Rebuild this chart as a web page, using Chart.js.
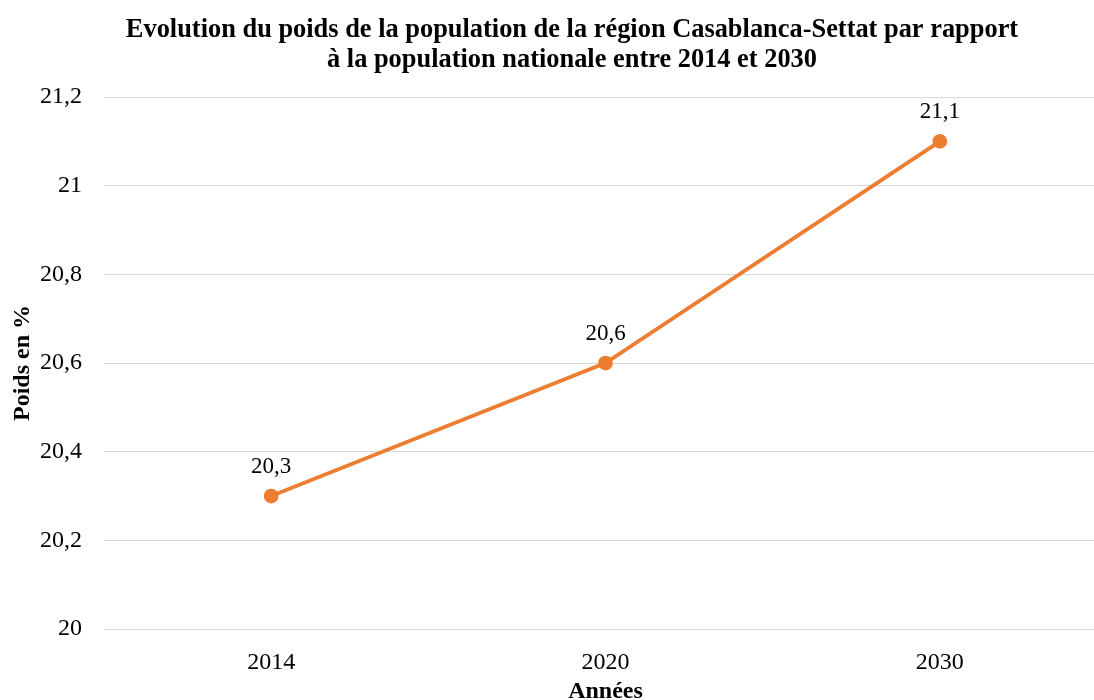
<!DOCTYPE html>
<html>
<head>
<meta charset="utf-8">
<script src="https://cdn.jsdelivr.net/npm/chart.js@4/dist/chart.umd.min.js"></script>
<style>
html,body{margin:0;padding:0;overflow:hidden;background:#fff;width:1094px;height:700px;}
canvas{display:block;}
</style>
</head>
<body>
<canvas id="c" width="1144" height="700"></canvas>
<script>
const years = ['2014', '2020', '2030'];
const poids = [20.3, 20.6, 21.1];
const yMin = 20;
const yMax = 21.2;
const yStep = 0.2;
const titleLines = ['Evolution du poids de la population de la région Casablanca-Settat par rapport', 'à la population nationale entre 2014 et 2030'];

const fmt = v => String(Number(v.toFixed(1))).replace('.', ',');
const serif = "'Liberation Serif', 'Times New Roman', serif";

const labelPlugin = {
  id: 'pointLabels',
  afterDatasetsDraw(chart) {
    const ctx = chart.ctx;
    const meta = chart.getDatasetMeta(0);
    ctx.save();
    ctx.font = '23px ' + serif;
    ctx.fillStyle = '#000';
    ctx.textAlign = 'center';
    ctx.textBaseline = 'middle';
    meta.data.forEach((pt, i) => {
      ctx.fillText(fmt(chart.data.datasets[0].data[i]), pt.x, pt.y - 29);
    });
    ctx.restore();
  }
};

new Chart(document.getElementById('c'), {
  type: 'line',
  data: {
    labels: years,
    datasets: [{
      data: poids,
      yAxisID: 'y',
      borderColor: '#ED7D31',
      backgroundColor: '#ED7D31',
      borderWidth: 3.75,
      pointRadius: 5.5,
      pointBackgroundColor: '#ED7D31',
      pointBorderColor: '#ED7D31',
      tension: 0,
      fill: false
    }]
  },
  options: {
    responsive: false,
    animation: false,
    layout: { padding: 0 },
    plugins: {
      legend: { display: false },
      tooltip: { enabled: false },
      title: {
        display: true,
        text: titleLines,
        color: '#000',
        font: { family: serif, size: 26.4, weight: 'bold', lineHeight: 1.15 },
        padding: { top: 15, bottom: 21.3 }
      }
    },
    scales: {
      x: {
        offset: true,
        grid: { display: false },
        border: { display: false },
        ticks: { color: '#000', font: { family: serif, size: 24 }, padding: 11 },
        title: { display: true, text: 'Années', color: '#000', font: { family: serif, size: 24, weight: 'bold' }, padding: { top: 0, bottom: -6 } },
        afterFit(s) { s.height = 71; }
      },
      y: {
        min: yMin,
        max: yMax,
        grid: { color: '#d9d9d9', lineWidth: 1, drawTicks: false },
        border: { display: false },
        ticks: { stepSize: yStep, color: '#000', font: { family: serif, size: 24 }, padding: 22, callback: v => fmt(v) },
        title: { display: true, text: 'Poids en %', color: '#000', font: { family: serif, size: 24, weight: 'bold' }, padding: { top: 8, bottom: 0 } },
        afterFit(s) { s.width = 104; }
      },
      yRight: {
        position: 'right',
        display: true,
        grid: { display: false },
        border: { display: false },
        ticks: { display: false },
        afterFit(s) { s.width = 37; }
      }
    }
  },
  plugins: [labelPlugin]
});
</script>
</body>
</html>
